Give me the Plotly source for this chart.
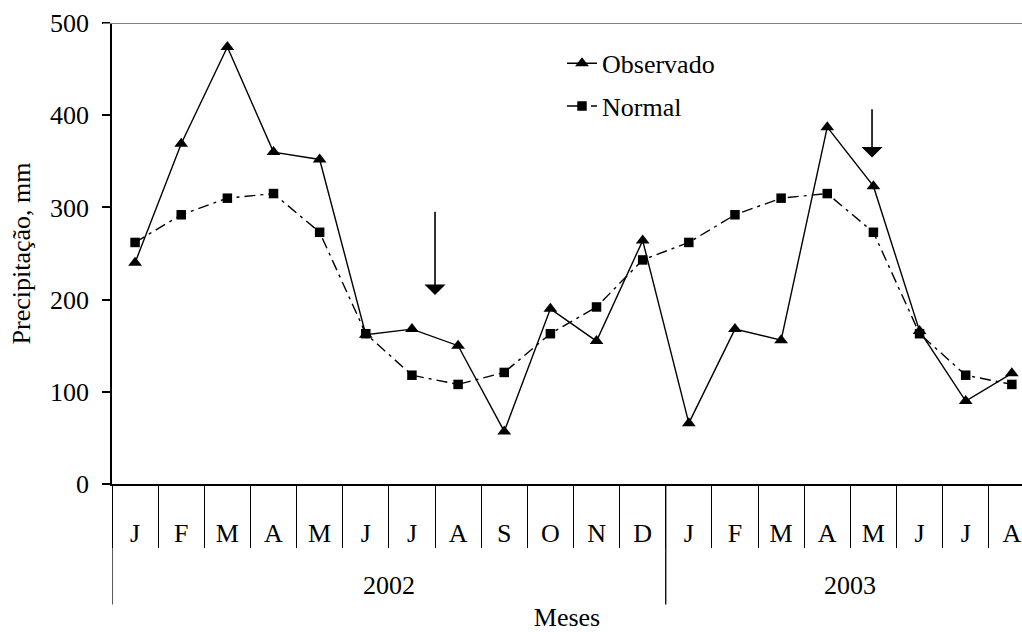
import plotly.graph_objects as go

months = ["J", "F", "M", "A", "M", "J", "J", "A", "S", "O", "N", "D",
          "J", "F", "M", "A", "M", "J", "J", "A"]
years = ["2002"] * 12 + ["2003"] * 8
observado = [240, 369, 474, 360, 352, 162, 168, 150, 57, 190, 155, 264,
             66, 168, 156, 387, 323, 166, 90, 120]
normal = [262, 292, 310, 315, 273, 163, 118, 108, 121, 163, 192, 243,
          262, 292, 310, 315, 273, 163, 118, 108]
y_ticks = [0, 100, 200, 300, 400, 500]
# arrows: (category position, tail value, tip value)
arrows = [(6.5, 297, 205), (15.97, 408, 354)]

FONT = "Liberation Serif, Times New Roman, serif"
FS = 26
idx = list(range(len(months)))
bounds = [i - 0.5 for i in range(len(months) + 1)]

fig = go.Figure()
fig.add_trace(go.Scatter(
    x=idx, y=observado, name="Observado", mode="lines+markers",
    line=dict(color="black", width=1.4),
    marker=dict(symbol="triangle-up", size=12, color="black"),
    legendgroup="a"))
fig.add_trace(go.Scatter(
    x=idx, y=normal, name="Normal", mode="lines+markers",
    line=dict(color="black", width=1.4, dash="11px,5px,3px,5px"),
    marker=dict(symbol="square", size=9.5, color="black"),
    legendgroup="b"))

H = 632 - 23 - 142  # plot height

# year labels
for yr in sorted(set(years)):
    pos = [i for i, y in zip(idx, years) if y == yr]
    fig.add_annotation(x=sum(pos) / len(pos), y=-(593 - 490) / H, xref="x", yref="paper",
                       text=yr, showarrow=False, yanchor="middle",
                       font=dict(size=FS, family=FONT, color="black"))
# group dividers (left edge and year boundaries)
group_edges = [-0.5] + [i - 0.5 for i in range(1, len(years)) if years[i] != years[i - 1]]
for gx in group_edges:
    fig.add_shape(type="line", x0=gx, x1=gx, y0=0, y1=-(612 - 490) / H,
                  xref="x", yref="paper", line=dict(color="black", width=1.3))
# top border line at 500
fig.add_shape(type="line", x0=-9 / 910, x1=1, y0=500, y1=500, xref="paper", yref="y",
              line=dict(color="#808080", width=2))
for xa, tail, tip in arrows:
    fig.add_annotation(x=xa, y=tip, ax=xa, ay=tail, xref="x", yref="y", axref="x", ayref="y",
                       text="", showarrow=True, arrowhead=1, arrowsize=2.2, arrowwidth=1.6,
                       arrowcolor="black")

fig.update_layout(
    width=1022, height=632,
    margin=dict(l=112, r=0, t=23, b=142),
    plot_bgcolor="white", paper_bgcolor="white",
    font=dict(family=FONT, size=FS, color="black"),
    showlegend=True,
    legend=dict(x=(562 - 112) / 910, y=1 - (40 - 23) / H, xanchor="left", yanchor="top",
                bgcolor="rgba(0,0,0,0)", font=dict(size=FS), tracegroupgap=6),
    xaxis=dict(range=[-0.5, 19.22], tickmode="array", tickvals=idx, ticktext=months,
               ticks="", showline=True, linecolor="black", linewidth=1.5,
               showgrid=False, zeroline=False, ticklabelstandoff=25,
               minor=dict(tickmode="array", tickvals=bounds, ticks="outside", ticklen=62,
                          tickcolor="black", tickwidth=1.3, showgrid=False),
               title=dict(text="Meses", standoff=66, font=dict(size=FS))),
    yaxis=dict(range=[0, 500], tickmode="array", tickvals=y_ticks, ticks="outside",
               ticklen=8, tickcolor="black", tickwidth=1.5,
               showline=True, linecolor="black", linewidth=1.5, showgrid=False,
               zeroline=False, ticklabelstandoff=8,
               title=dict(text="Precipitação, mm", standoff=12, font=dict(size=FS))),
)

fig.write_html("out.html")
